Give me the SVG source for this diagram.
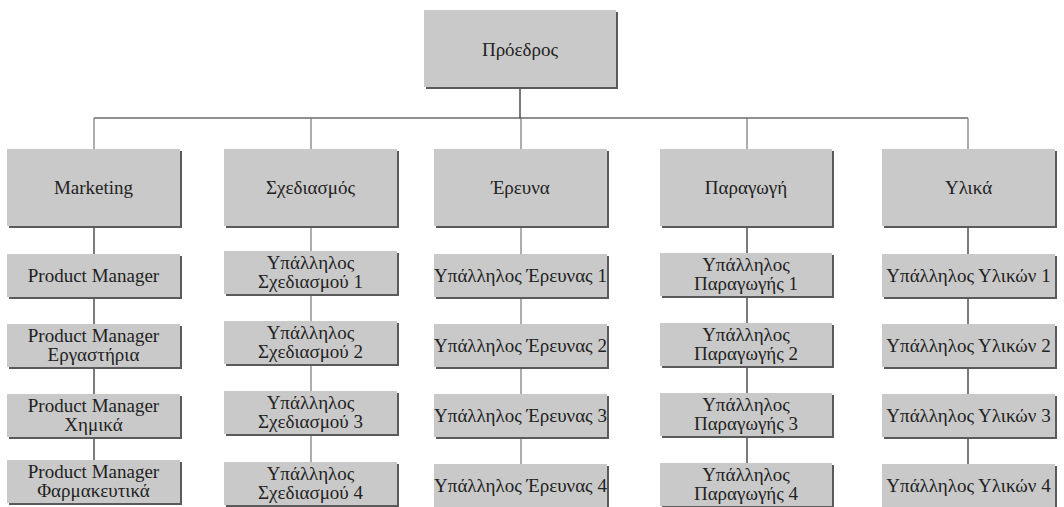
<svg xmlns="http://www.w3.org/2000/svg" width="1064" height="507" viewBox="0 0 1064 507">
<defs>
<style>
.box{fill:#c9c9c9;}
.sh{fill:#5a5a5a;}
.t{font-family:"Liberation Serif","Times New Roman",serif;font-size:19px;fill:#222;text-anchor:middle;}
.c{stroke:#222;stroke-width:1.2;fill:none;}
.g{stroke:#777;stroke-width:1.2;fill:none;}
</style>
</defs>
<rect width="1064" height="507" fill="#fff"/>
<g id="connectors">
<path class="c" d="M520 87V118M94 118H968"/>
<path class="g" d="M94 118V149M311 118V149M521 118V149M747 118V149M968 118V149"/>
<path class="c" d="M94 226V460"/>
<path class="g" d="M311 226V462"/>
<path class="g" d="M521 226V464"/>
<path class="c" d="M747 226V464"/>
<path class="c" d="M968 226V464"/>
</g>
<g id="president">
<rect class="sh" x="426" y="12" width="192" height="77"/><rect class="box" x="424" y="10" width="192" height="77"/>
<text class="t" x="520" y="56">Πρόεδρος</text>
</g>
<g id="marketing">
<rect class="sh" x="9" y="151" width="173" height="77"/><rect class="box" x="7" y="149" width="173" height="77"/>
<text class="t" x="93.5" y="194">Marketing</text>
</g>
<g id="sxediasmos">
<rect class="sh" x="226" y="151" width="173" height="77"/><rect class="box" x="224" y="149" width="173" height="77"/>
<text class="t" x="310.5" y="194">Σχεδιασμός</text>
</g>
<g id="erevna">
<rect class="sh" x="436" y="151" width="173" height="77"/><rect class="box" x="434" y="149" width="173" height="77"/>
<text class="t" x="520.5" y="194">Έρευνα</text>
</g>
<g id="paragogi">
<rect class="sh" x="662" y="151" width="172" height="77"/><rect class="box" x="660" y="149" width="172" height="77"/>
<text class="t" x="746" y="194">Παραγωγή</text>
</g>
<g id="ylika">
<rect class="sh" x="884" y="151" width="173" height="77"/><rect class="box" x="882" y="149" width="173" height="77"/>
<text class="t" x="968.5" y="194">Υλικά</text>
</g>
<g id="pm1">
<rect class="sh" x="9" y="256" width="173" height="43"/><rect class="box" x="7" y="254" width="173" height="43"/>
<text class="t" x="93.5" y="282">Product Manager</text>
</g>
<g id="pm2">
<rect class="sh" x="9" y="326" width="173" height="43"/><rect class="box" x="7" y="324" width="173" height="43"/>
<text class="t" x="93.5" y="342">Product Manager</text>
<text class="t" x="93.5" y="361">Εργαστήρια</text>
</g>
<g id="pm3">
<rect class="sh" x="9" y="396" width="173" height="43"/><rect class="box" x="7" y="394" width="173" height="43"/>
<text class="t" x="93.5" y="412">Product Manager</text>
<text class="t" x="93.5" y="431">Χημικά</text>
</g>
<g id="pm4">
<rect class="sh" x="9" y="462" width="173" height="43"/><rect class="box" x="7" y="460" width="173" height="43"/>
<text class="t" x="93.5" y="478">Product Manager</text>
<text class="t" x="93.5" y="497">Φαρμακευτικά</text>
</g>
<g id="sx1">
<rect class="sh" x="226" y="253" width="173" height="43"/><rect class="box" x="224" y="251" width="173" height="43"/>
<text class="t" x="310.5" y="269">Υπάλληλος</text>
<text class="t" x="310.5" y="288">Σχεδιασμού 1</text>
</g>
<g id="sx2">
<rect class="sh" x="226" y="323" width="173" height="43"/><rect class="box" x="224" y="321" width="173" height="43"/>
<text class="t" x="310.5" y="339">Υπάλληλος</text>
<text class="t" x="310.5" y="358">Σχεδιασμού 2</text>
</g>
<g id="sx3">
<rect class="sh" x="226" y="393" width="173" height="43"/><rect class="box" x="224" y="391" width="173" height="43"/>
<text class="t" x="310.5" y="409">Υπάλληλος</text>
<text class="t" x="310.5" y="428">Σχεδιασμού 3</text>
</g>
<g id="sx4">
<rect class="sh" x="226" y="464" width="173" height="43"/><rect class="box" x="224" y="462" width="173" height="43"/>
<text class="t" x="310.5" y="480">Υπάλληλος</text>
<text class="t" x="310.5" y="499">Σχεδιασμού 4</text>
</g>
<g id="er1">
<rect class="sh" x="436" y="256" width="173" height="43"/><rect class="box" x="434" y="254" width="173" height="43"/>
<text class="t" x="520.5" y="282">Υπάλληλος Έρευνας 1</text>
</g>
<g id="er2">
<rect class="sh" x="436" y="326" width="173" height="43"/><rect class="box" x="434" y="324" width="173" height="43"/>
<text class="t" x="520.5" y="352">Υπάλληλος Έρευνας 2</text>
</g>
<g id="er3">
<rect class="sh" x="436" y="396" width="173" height="43"/><rect class="box" x="434" y="394" width="173" height="43"/>
<text class="t" x="520.5" y="422">Υπάλληλος Έρευνας 3</text>
</g>
<g id="er4">
<rect class="sh" x="436" y="466" width="173" height="43"/><rect class="box" x="434" y="464" width="173" height="43"/>
<text class="t" x="520.5" y="492">Υπάλληλος Έρευνας 4</text>
</g>
<g id="pa1">
<rect class="sh" x="662" y="255" width="172" height="43"/><rect class="box" x="660" y="253" width="172" height="43"/>
<text class="t" x="746" y="271">Υπάλληλος</text>
<text class="t" x="746" y="290">Παραγωγής 1</text>
</g>
<g id="pa2">
<rect class="sh" x="662" y="325" width="172" height="43"/><rect class="box" x="660" y="323" width="172" height="43"/>
<text class="t" x="746" y="341">Υπάλληλος</text>
<text class="t" x="746" y="360">Παραγωγής 2</text>
</g>
<g id="pa3">
<rect class="sh" x="662" y="395" width="172" height="43"/><rect class="box" x="660" y="393" width="172" height="43"/>
<text class="t" x="746" y="411">Υπάλληλος</text>
<text class="t" x="746" y="430">Παραγωγής 3</text>
</g>
<g id="pa4">
<rect class="sh" x="662" y="465" width="172" height="43"/><rect class="box" x="660" y="463" width="172" height="43"/>
<text class="t" x="746" y="481">Υπάλληλος</text>
<text class="t" x="746" y="500">Παραγωγής 4</text>
</g>
<g id="yl1">
<rect class="sh" x="884" y="256" width="173" height="43"/><rect class="box" x="882" y="254" width="173" height="43"/>
<text class="t" x="968.5" y="282">Υπάλληλος Υλικών 1</text>
</g>
<g id="yl2">
<rect class="sh" x="884" y="326" width="173" height="43"/><rect class="box" x="882" y="324" width="173" height="43"/>
<text class="t" x="968.5" y="352">Υπάλληλος Υλικών 2</text>
</g>
<g id="yl3">
<rect class="sh" x="884" y="396" width="173" height="43"/><rect class="box" x="882" y="394" width="173" height="43"/>
<text class="t" x="968.5" y="422">Υπάλληλος Υλικών 3</text>
</g>
<g id="yl4">
<rect class="sh" x="884" y="466" width="173" height="43"/><rect class="box" x="882" y="464" width="173" height="43"/>
<text class="t" x="968.5" y="492">Υπάλληλος Υλικών 4</text>
</g>
</svg>
